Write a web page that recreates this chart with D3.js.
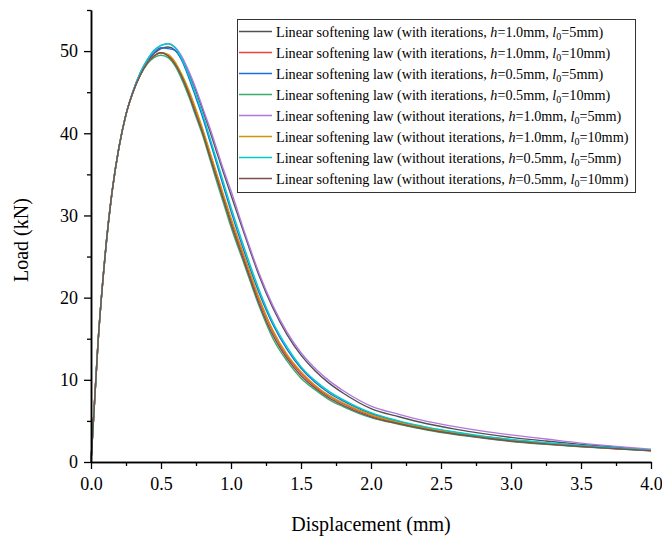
<!DOCTYPE html>
<html>
<head>
<meta charset="utf-8">
<script src="https://cdn.jsdelivr.net/npm/d3@7"></script>
<style>
  body { margin: 0; background: #fff; }
  svg { display: block; font-family: "Liberation Serif", "Times New Roman", serif; }
</style>
</head>
<body>
<div id="chart"></div>
<script>
// displacement (mm), shared by all series
var displacement = [0, 0.05, 0.1, 0.15, 0.2, 0.25, 0.3, 0.35, 0.4, 0.45, 0.5, 0.55, 0.6, 0.65, 0.7, 0.75, 0.8, 0.85, 0.9, 0.95,
                    1.0, 1.1, 1.2, 1.3, 1.4, 1.5, 1.6, 1.7, 1.8, 2.0, 2.2, 2.4, 2.6, 2.8, 3.0, 3.25, 3.5, 3.75, 4.0];

// load (kN) for each case
var withIterH10L5 = [0, 14.5, 25, 32.8, 38.3, 42.3, 45.1, 47.2, 48.7, 49.7, 50.3, 50.5, 50.1, 49.0, 47.2, 45.1, 42.7, 40.2, 37.6, 35.0,
                     32.5, 27.5, 22.7, 18.7, 15.5, 13.0, 11.1, 9.6, 8.4, 6.5, 5.5, 4.65, 4.0, 3.45, 3.0, 2.55, 2.15, 1.8, 1.45];
var withIterH10L10 = [0, 14.5, 25, 32.8, 38.3, 42.3, 45.0, 47.0, 48.5, 49.4, 49.8, 49.5, 48.6, 47.0, 45.0, 42.7, 40.2, 37.5, 34.8, 32.1,
                      29.4, 24.5, 19.7, 15.8, 12.9, 10.8, 9.2, 8.0, 7.1, 5.65, 4.75, 4.05, 3.5, 3.0, 2.6, 2.2, 1.9, 1.65, 1.4];
var withIterH05L5 = [0, 14.5, 25, 32.8, 38.3, 42.3, 45.1, 47.2, 48.8, 49.8, 50.4, 50.3, 50.1, 48.8, 46.7, 44.3, 41.8, 39.0, 36.2, 33.3,
                     30.5, 25.3, 20.6, 16.7, 13.7, 11.4, 9.7, 8.4, 7.45, 5.9, 4.9, 4.15, 3.6, 3.1, 2.7, 2.3, 1.95, 1.68, 1.42];
var withIterH05L10 = [0, 14.5, 25, 32.8, 38.3, 42.3, 45.0, 47.0, 48.4, 49.2, 49.5, 49.2, 48.2, 46.5, 44.4, 42.0, 39.6, 36.8, 34.0, 31.3,
                      28.6, 23.8, 19.0, 15.0, 12.3, 10.2, 8.8, 7.6, 6.75, 5.4, 4.6, 3.9, 3.35, 2.9, 2.5, 2.15, 1.85, 1.6, 1.35];
var withoutIterH10L5 = [0, 14.5, 25, 32.8, 38.3, 42.3, 45.1, 47.3, 48.9, 50.0, 50.7, 50.9, 50.5, 49.3, 47.5, 45.4, 43.0, 40.6, 38.0, 35.4,
                        33.0, 27.8, 23.0, 19.0, 15.8, 13.3, 11.4, 9.9, 8.7, 6.8, 5.8, 4.95, 4.3, 3.75, 3.3, 2.8, 2.3, 1.9, 1.55];
var withoutIterH10L10 = [0, 14.5, 25, 32.8, 38.3, 42.3, 45.0, 47.0, 48.5, 49.4, 49.8, 49.6, 48.7, 47.1, 45.2, 42.9, 40.4, 37.7, 35.0, 32.3,
                         29.7, 24.8, 20.0, 16.0, 13.1, 11.0, 9.35, 8.1, 7.2, 5.75, 4.8, 4.1, 3.55, 3.05, 2.65, 2.25, 1.92, 1.66, 1.41];
var withoutIterH05L5 = [0, 14.5, 25, 32.8, 38.3, 42.3, 45.1, 47.3, 48.9, 50.1, 50.7, 50.9, 50.4, 49.0, 47.0, 44.7, 42.2, 39.4, 36.6, 33.8,
                        31.0, 25.8, 21.0, 17.0, 14.0, 11.6, 9.9, 8.6, 7.6, 6.0, 5.0, 4.25, 3.65, 3.15, 2.75, 2.35, 2.0, 1.7, 1.45];
var withoutIterH05L10 = [0, 14.5, 25, 32.8, 38.3, 42.3, 45.0, 47.0, 48.5, 49.4, 49.8, 49.4, 48.4, 46.8, 44.7, 42.3, 39.9, 37.1, 34.4, 31.7,
                         29.0, 24.1, 19.3, 15.4, 12.6, 10.5, 9.0, 7.8, 6.9, 5.5, 4.65, 3.95, 3.4, 2.95, 2.55, 2.18, 1.88, 1.62, 1.37];

var seriesNames = [
  ["with", "1.0", "5"], ["with", "1.0", "10"], ["with", "0.5", "5"], ["with", "0.5", "10"],
  ["without", "1.0", "5"], ["without", "1.0", "10"], ["without", "0.5", "5"], ["without", "0.5", "10"]
];
var seriesLoads = [withIterH10L5, withIterH10L10, withIterH05L5, withIterH05L10,
                   withoutIterH10L5, withoutIterH10L10, withoutIterH05L5, withoutIterH05L10];
var seriesColors = ["#515151", "#F14040", "#1A6FDF", "#37AD6B", "#B177DE", "#CC9900", "#00CBCC", "#7D4E4E"];

var xTicks = [0, 0.5, 1.0, 1.5, 2.0, 2.5, 3.0, 3.5, 4.0];
var xMinorTicks = [0.25, 0.75, 1.25, 1.75, 2.25, 2.75, 3.25, 3.75];
var yTicks = [0, 10, 20, 30, 40, 50];
var yMinorTicks = [5, 15, 25, 35, 45, 55];

var width = 662, height = 536;
var margin = { left: 91, right: 11, top: 10, bottom: 74 };

var svg = d3.select("#chart").append("svg")
  .attr("width", width)
  .attr("height", height);

var x = d3.scaleLinear().domain([0, 4]).range([margin.left, width - margin.right]);
var y = d3.scaleLinear().domain([0, 55]).range([height - margin.bottom, margin.top]);

// curves
var line = d3.line()
  .curve(d3.curveMonotoneX)
  .x(function (d) { return x(d[0]); })
  .y(function (d) { return y(d[1]); });

seriesLoads.forEach(function (loads, i) {
  var pts = displacement.map(function (dx, k) { return [dx, loads[k]]; });
  svg.append("path")
    .datum(pts)
    .attr("fill", "none")
    .attr("stroke", seriesColors[i])
    .attr("stroke-width", 1.4)
    .attr("stroke-linejoin", "round")
    .attr("d", line);
});

// axes
svg.append("g")
  .attr("transform", "translate(0," + y(0) + ")")
  .call(d3.axisBottom(x).tickValues(xTicks).tickFormat(d3.format(".1f")).tickSize(7).tickSizeOuter(0).tickPadding(8));
svg.append("g")
  .attr("transform", "translate(0," + y(0) + ")")
  .call(d3.axisBottom(x).tickValues(xMinorTicks).tickFormat("").tickSize(4).tickSizeOuter(0));

svg.append("g")
  .attr("transform", "translate(" + x(0) + ",0)")
  .call(d3.axisLeft(y).tickValues(yTicks).tickSize(7).tickSizeOuter(0).tickPadding(6));
svg.append("g")
  .attr("transform", "translate(" + x(0) + ",0)")
  .call(d3.axisLeft(y).tickValues(yMinorTicks).tickFormat("").tickSize(4).tickSizeOuter(0));

svg.selectAll(".domain").attr("stroke", "#000").attr("stroke-width", 1.5);
svg.selectAll(".tick line").attr("stroke", "#000").attr("stroke-width", 1.3);
svg.selectAll(".tick text")
  .attr("fill", "#000")
  .style("font-family", "Liberation Serif, Times New Roman, serif")
  .style("font-size", "18px");

// axis titles
svg.append("text")
  .attr("x", x(2))
  .attr("y", 531)
  .attr("text-anchor", "middle")
  .style("font-size", "20px")
  .text("Displacement (mm)");

svg.append("text")
  .attr("transform", "translate(28," + y(27) + ") rotate(-90)")
  .attr("text-anchor", "middle")
  .style("font-size", "20px")
  .text("Load (kN)");

// legend
var legend = svg.append("g");
legend.append("rect")
  .attr("x", 237.5)
  .attr("y", 19.5)
  .attr("width", 398)
  .attr("height", 173)
  .attr("fill", "#fff")
  .attr("stroke", "#333")
  .attr("stroke-width", 1);

seriesNames.forEach(function (s, i) {
  var cy = 31.5 + i * 21;
  legend.append("line")
    .attr("x1", 239).attr("x2", 272)
    .attr("y1", cy).attr("y2", cy)
    .attr("stroke", seriesColors[i])
    .attr("stroke-width", 1.5);
  var t = legend.append("text")
    .attr("x", 276)
    .attr("y", cy + 5)
    .style("font-size", "14.2px");
  t.append("tspan").text("Linear softening law (" + s[0] + " iterations, ");
  t.append("tspan").style("font-style", "italic").text("h");
  t.append("tspan").text("=" + s[1] + "mm, ");
  t.append("tspan").style("font-style", "italic").text("l");
  t.append("tspan").attr("dy", 3).style("font-size", "10px").text("0");
  t.append("tspan").attr("dy", -3).text("=" + s[2] + "mm)");
});
</script>
</body>
</html>
